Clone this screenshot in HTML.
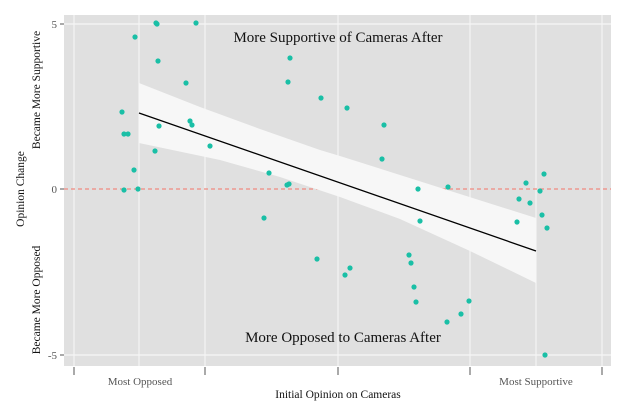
<!DOCTYPE html>
<html><head><meta charset="utf-8"><style>body{margin:0;background:#fff}</style></head><body>
<svg width="624" height="415" xmlns="http://www.w3.org/2000/svg" font-family="Liberation Serif, serif">
<rect x="64" y="15" width="547" height="351" fill="#e0e0e0"/>
<g stroke="#f5f5f5" stroke-width="1.2">
<line x1="64" x2="611" y1="24" y2="24"/><line x1="64" x2="611" y1="355" y2="355"/>
<line x1="74" x2="74" y1="15" y2="366"/><line x1="139" x2="139" y1="15" y2="366"/><line x1="205" x2="205" y1="15" y2="366"/>
<line x1="338" x2="338" y1="15" y2="366"/><line x1="470" x2="470" y1="15" y2="366"/><line x1="536" x2="536" y1="15" y2="366"/><line x1="602" x2="602" y1="15" y2="366"/>
</g>
<line x1="64" x2="611" y1="189" y2="189" stroke="#f08a80" stroke-width="1.2" stroke-dasharray="4,3"/>
<path d="M139,83 L200,107 L260,129 L320,150 L340,156 L400,175 L460,194 L536,218 L536,283 L470,251 L400,219 L340,197 L280,177 L220,160 L139,143 Z" fill="#f7f7f7"/>
<line x1="139" y1="113" x2="536" y2="251" stroke="#000" stroke-width="1.3"/>
<g fill="#1abfa6">
<circle cx="122" cy="112" r="2.6"/><circle cx="124" cy="134" r="2.6"/><circle cx="128" cy="134" r="2.6"/><circle cx="124" cy="190" r="2.6"/><circle cx="134" cy="170" r="2.6"/><circle cx="138" cy="189" r="2.6"/><circle cx="135" cy="37" r="2.6"/><circle cx="156" cy="23" r="2.6"/><circle cx="157" cy="24" r="2.6"/><circle cx="196" cy="23" r="2.6"/><circle cx="158" cy="61" r="2.6"/><circle cx="159" cy="126" r="2.6"/><circle cx="155" cy="151" r="2.6"/><circle cx="186" cy="83" r="2.6"/><circle cx="190" cy="121" r="2.6"/><circle cx="192" cy="125" r="2.6"/><circle cx="210" cy="146" r="2.6"/><circle cx="290" cy="58" r="2.6"/><circle cx="288" cy="82" r="2.6"/><circle cx="269" cy="173" r="2.6"/><circle cx="287" cy="185" r="2.6"/><circle cx="289" cy="184" r="2.6"/><circle cx="264" cy="218" r="2.6"/><circle cx="321" cy="98" r="2.6"/><circle cx="347" cy="108" r="2.6"/><circle cx="384" cy="125" r="2.6"/><circle cx="382" cy="159" r="2.6"/><circle cx="418" cy="189" r="2.6"/><circle cx="420" cy="221" r="2.6"/><circle cx="448" cy="187" r="2.6"/><circle cx="317" cy="259" r="2.6"/><circle cx="345" cy="275" r="2.6"/><circle cx="350" cy="268" r="2.6"/><circle cx="409" cy="255" r="2.6"/><circle cx="411" cy="263" r="2.6"/><circle cx="414" cy="287" r="2.6"/><circle cx="416" cy="302" r="2.6"/><circle cx="447" cy="322" r="2.6"/><circle cx="461" cy="314" r="2.6"/><circle cx="469" cy="301" r="2.6"/><circle cx="517" cy="222" r="2.6"/><circle cx="519" cy="199" r="2.6"/><circle cx="526" cy="183" r="2.6"/><circle cx="530" cy="203" r="2.6"/><circle cx="540" cy="191" r="2.6"/><circle cx="544" cy="174" r="2.6"/><circle cx="542" cy="215" r="2.6"/><circle cx="547" cy="228" r="2.6"/><circle cx="545" cy="355" r="2.6"/>
</g>
<text x="338" y="42" font-size="15" text-anchor="middle" fill="#111">More Supportive of Cameras After</text>
<text x="343" y="342" font-size="15" text-anchor="middle" fill="#111">More Opposed to Cameras After</text>
<g stroke="#555" stroke-width="1">
<line x1="60" x2="64" y1="24" y2="24"/><line x1="60" x2="64" y1="189" y2="189"/><line x1="60" x2="64" y1="355" y2="355"/>
<line x1="74" x2="74" y1="367" y2="375"/><line x1="205" x2="205" y1="367" y2="375"/><line x1="338" x2="338" y1="367" y2="375"/><line x1="470" x2="470" y1="367" y2="375"/><line x1="602" x2="602" y1="367" y2="375"/>
</g>
<g font-size="11" fill="#555" text-anchor="end">
<text x="57" y="28">5</text><text x="57" y="193">0</text><text x="57" y="359">-5</text>
</g>
<g font-size="11" fill="#555" text-anchor="middle">
<text x="140" y="385">Most Opposed</text><text x="536" y="385">Most Supportive</text>
</g>
<text x="338" y="398" font-size="11.5" text-anchor="middle" fill="#111">Initial Opinion on Cameras</text>
<text transform="translate(24,189) rotate(-90)" font-size="11.5" text-anchor="middle" fill="#111">Opinion Change</text>
<text transform="translate(40,90) rotate(-90)" font-size="11.5" text-anchor="middle" fill="#111">Became More Supportive</text>
<text transform="translate(40,300) rotate(-90)" font-size="11.5" text-anchor="middle" fill="#111">Became More Opposed</text>
</svg>
</body></html>
